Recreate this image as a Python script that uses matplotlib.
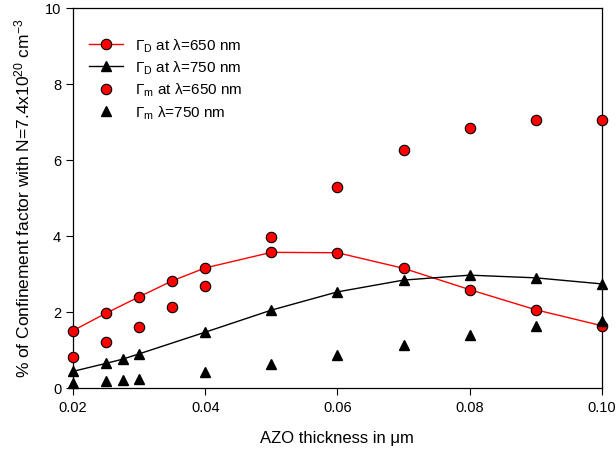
import numpy as np
import matplotlib
matplotlib.use("Agg")
import matplotlib.pyplot as plt
from matplotlib.ticker import FormatStrFormatter

plt.rcParams['font.family'] = ['Liberation Sans', 'DejaVu Sans']
plt.rcParams['mathtext.fontset'] = 'custom'
plt.rcParams['mathtext.rm'] = 'Liberation Sans'
plt.rcParams['mathtext.it'] = 'Liberation Sans:italic'

# thickness (um)
x_d = [0.02, 0.025, 0.03, 0.035, 0.04, 0.05, 0.06, 0.07, 0.08, 0.09, 0.10]
gd_650 = [1.50, 1.96, 2.39, 2.81, 3.15, 3.56, 3.55, 3.14, 2.58, 2.05, 1.63]
gm_650 = [0.82, 1.19, 1.60, 2.13, 2.67, 3.97, 5.27, 6.25, 6.83, 7.04, 7.04]

x_t = [0.02, 0.025, 0.0275, 0.03, 0.04, 0.05, 0.06, 0.07, 0.08, 0.09, 0.10]
gd_750 = [0.43, 0.64, 0.75, 0.89, 1.46, 2.04, 2.52, 2.83, 2.96, 2.89, 2.73]
gm_750 = [0.12, 0.18, 0.20, 0.24, 0.42, 0.63, 0.86, 1.13, 1.38, 1.61, 1.76]

fig = plt.figure(figsize=(6.16, 4.6), dpi=100)
ax = fig.add_axes([0.1185, 0.155, 0.8585, 0.8265])

ax.plot(x_d, gd_650, '-o', color='red', lw=1, mfc='red', mec='black', mew=0.8, ms=7.5,
        label='Γ$_{\\rm D}$ at λ=650 nm', clip_on=False, zorder=3)
ax.plot(x_t, gd_750, '-^', color='black', lw=1, mfc='black', mec='black', ms=7.5,
        label='Γ$_{\\rm D}$ at λ=750 nm', clip_on=False, zorder=3)
ax.plot(x_d, gm_650, 'o', mfc='red', mec='black', mew=0.8, ms=7.5,
        label='Γ$_{\\rm m}$ at λ=650 nm', clip_on=False, zorder=3)
ax.plot(x_t, gm_750, '^', mfc='black', mec='black', ms=7.5,
        label='Γ$_{\\rm m}$ λ=750 nm', clip_on=False, zorder=3)

ax.set_xlim(0.02, 0.10)
ax.set_ylim(0, 10)
ax.set_xticks([0.02, 0.04, 0.06, 0.08, 0.10])
ax.set_yticks([0, 2, 4, 6, 8, 10])
ax.xaxis.set_major_formatter(FormatStrFormatter('%.2f'))
ax.tick_params(direction='out', length=5, labelsize=10.5, top=False, right=False)
for s in ax.spines.values():
    s.set_linewidth(0.9)

ax.set_xlabel('AZO thickness in μm', fontsize=12, labelpad=12)
ax.set_ylabel('% of Confinement factor with N=7.4x10$^{20}$ cm$^{-3}$', fontsize=12.5, labelpad=9)

ax.legend(loc='upper left', frameon=False, fontsize=11, handlelength=2.2,
          labelspacing=0.32, bbox_to_anchor=(0.005, 0.96))

fig.savefig('out.png', dpi=100)
